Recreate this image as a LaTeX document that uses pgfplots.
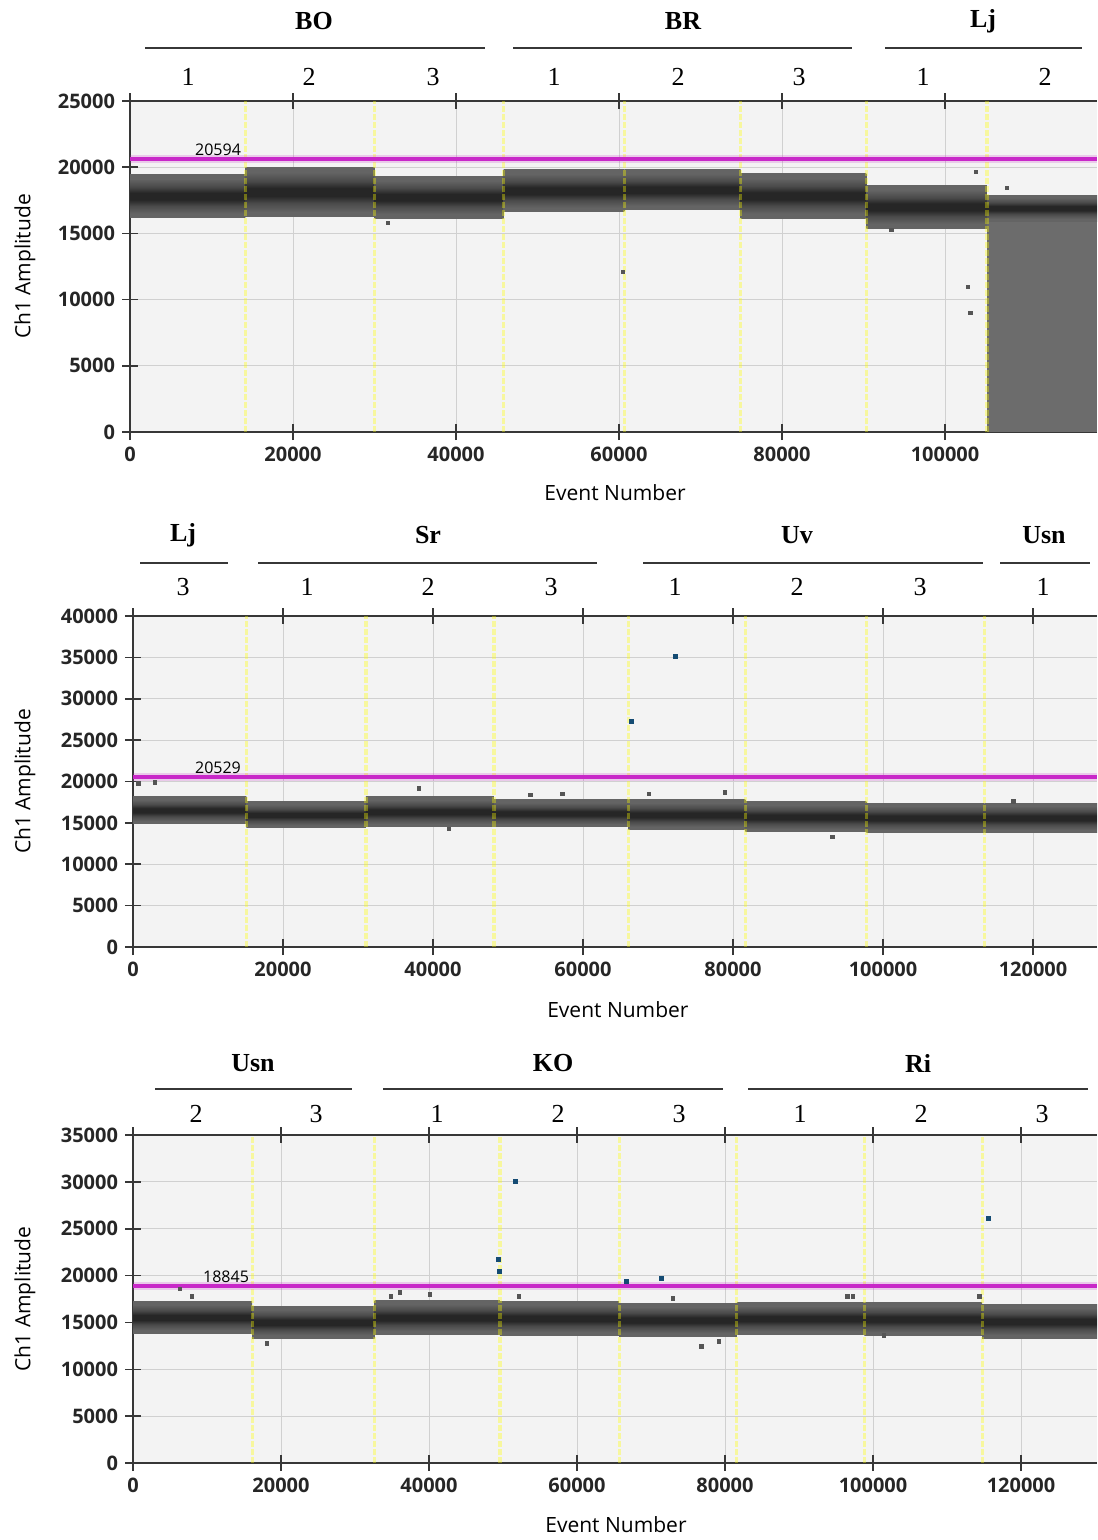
\documentclass[border=0pt]{standalone}
\usepackage{fontspec}
\setsansfont{Open Sans}
\newfontfamily\tnr{Liberation Serif}
\usepackage{pgfplots}
\pgfplotsset{compat=1.18}

\definecolor{bggray}{RGB}{243,243,243}
\definecolor{gridgray}{RGB}{208,208,208}
\definecolor{axgray}{RGB}{55,55,55}
\definecolor{thr}{RGB}{200,40,200}
\definecolor{wellyel}{RGB}{255,255,0}
\definecolor{dotblue}{RGB}{20,75,115}
\definecolor{dotgray}{RGB}{85,85,85}
\definecolor{c1}{RGB}{100,100,100}
\definecolor{c2}{RGB}{74,74,74}
\definecolor{c3}{RGB}{38,38,38}
\definecolor{ljgray}{RGB}{108,108,108}

\pgfdeclareverticalshading{band}{100bp}{color(0bp)=(c1); color(25bp)=(c1); color(30bp)=(c1); color(39bp)=(c2); color(46bp)=(c3); color(54bp)=(c3); color(61bp)=(c2); color(70bp)=(c1); color(75bp)=(c1); color(100bp)=(c1)}

\pgfplotsset{
  ddpcr/.style={
    scale only axis, anchor=south west,
    axis background/.style={fill=bggray},
    axis x line*=box, axis y line*=left,
    x axis line style={-}, y axis line style={-},
    axis line style={axgray, line width=1pt},
    grid=major, major grid style={gridgray, line width=0.5pt},
    tick align=center, major tick length=8pt,
    tick style={axgray, line width=0.8pt},
    xmin=0, ymin=0,
    xtick={0,20000,...,120000},
    scaled ticks=false,
    /pgf/number format/fixed,
    /pgf/number format/precision=0,
    /pgf/number format/1000 sep={},
    /pgf/number format/assume math mode=true,
    tick label style={font=\sffamily\bfseries\fontsize{10}{12}\selectfont, text=black!85},
    xlabel={Event Number}, ylabel={Ch1 Amplitude},
    label style={font=\sffamily\fontsize{10.5}{12}\selectfont},
  },
  band/.style={draw=none, shading=band, forget plot},
  wellsep/.style={wellyel, opacity=0.35, line width=1.6pt, dash pattern=on 3pt off 1pt, forget plot},
  thrline/.style={thr, line width=2pt, forget plot},
  thrhalo/.style={thr, opacity=0.2, line width=4pt, forget plot},
  outl/.style={only marks, mark=square*, mark size=0.9pt, dotgray},
  outb/.style={only marks, mark=square*, mark size=1pt, dotblue},
}
% one well: x0, x1, low edge, high edge
\newcommand{\well}[4]{\addplot[band] coordinates {(#1,#3) (#2,#3) (#2,#4) (#1,#4)} -- cycle;}
\newcommand{\sep}[2]{\addplot[wellsep] coordinates {(#1,0) (#1,#2)};}
\newcommand{\grp}[3]{\node[font=\tnr\bfseries\fontsize{13}{15}\selectfont] at (#1pt,#2pt) {#3};}
\newcommand{\num}[3]{\node[font=\tnr\fontsize{13}{15}\selectfont] at (#1pt,#2pt) {#3};}

\begin{document}
\begin{tikzpicture}
\useasboundingbox (0pt,0pt) rectangle (548.5pt,-770pt);

% ---------- panel 1 ----------
\begin{axis}[ddpcr, at={(65pt,-216pt)}, width=483.5pt, height=165.5pt,
  xmax=118650, ymax=25000, ytick={0,5000,...,25000},
  xlabel style={at={(axis description cs:0.5016,-0.184)}, anchor=center},
  ylabel style={at={(axis description cs:-0.1086,0.5)}, anchor=center}]
\addplot[fill=ljgray, draw=none, forget plot] coordinates {(105150,0) (118650,0) (118650,16300) (105150,16300)} -- cycle;
\well{0}{14170}{16170}{19440}
\well{14170}{30030}{16240}{20000}
\well{30030}{45830}{16160}{19300}
\well{45830}{60670}{16620}{19800}
\well{60670}{74920}{16770}{19800}
\well{74920}{90350}{16160}{19500}
\well{90350}{105150}{15400}{18600}
\well{105150}{118650}{15900}{17900}
\sep{14170}{25000}\sep{30030}{25000}\sep{45830}{25000}\sep{60670}{25000}
\sep{74920}{25000}\sep{90350}{25000}\sep{105150}{25000}
\addplot[thrhalo] coordinates {(0,20594) (118650,20594)};
\addplot[thrline] coordinates {(0,20594) (118650,20594)};
\addplot[outl] coordinates {(60490,12080) (31650,15790) (103800,19640) (102800,10950) (103100,8990) (107600,18430) (93400,15260)};
\node[font=\sffamily\fontsize{8}{9}\selectfont] at (axis cs:10800,21300) {20594};
\end{axis}

% ---------- panel 2 ----------
\begin{axis}[ddpcr, at={(66.5pt,-473.5pt)}, width=482pt, height=165.5pt,
  xmax=128530, ymax=40000, ytick={0,5000,...,40000},
  xlabel style={at={(axis description cs:0.503,-0.19)}, anchor=center},
  ylabel style={at={(axis description cs:-0.112,0.5)}, anchor=center}]
\well{0}{15100}{14870}{18140}
\well{15100}{31060}{14390}{17530}
\well{31060}{48130}{14510}{18140}
\well{48130}{66040}{14510}{17770}
\well{66040}{81660}{14150}{17770}
\well{81660}{97780}{13900}{17530}
\well{97780}{113550}{13780}{17400}
\well{113550}{128530}{13780}{17400}
\sep{15100}{40000}\sep{31060}{40000}\sep{48130}{40000}\sep{66040}{40000}
\sep{81660}{40000}\sep{97780}{40000}\sep{113550}{40000}
\addplot[thrhalo] coordinates {(0,20529) (128530,20529)};
\addplot[thrline] coordinates {(0,20529) (128530,20529)};
\addplot[outl] coordinates {(700,19800) (2900,19900) (38100,19200) (42100,14260) (52950,18360) (57230,18520) (68800,18520) (78900,18700) (117400,17600) (93250,13300)};
\addplot[outb] coordinates {(72340,35100) (66400,27300)};
\node[font=\sffamily\fontsize{8}{9}\selectfont] at (axis cs:11330,21700) {20529};
\end{axis}

% ---------- panel 3 ----------
\begin{axis}[ddpcr, at={(66.5pt,-731.5pt)}, width=482pt, height=164pt,
  xmax=130270, ymax=35000, ytick={0,5000,...,35000},
  xlabel style={at={(axis description cs:0.501,-0.189)}, anchor=center},
  ylabel style={at={(axis description cs:-0.112,0.5)}, anchor=center}]
\well{0}{16100}{13830}{17230}
\well{16100}{32660}{13300}{16700}
\well{32660}{49590}{13700}{17300}
\well{49590}{65700}{13600}{17250}
\well{65700}{81600}{13500}{17000}
\well{81600}{98830}{13700}{17100}
\well{98830}{114750}{13600}{17100}
\well{114750}{130270}{13300}{16900}
\sep{16100}{35000}\sep{32660}{35000}\sep{49590}{35000}\sep{65700}{35000}
\sep{81600}{35000}\sep{98830}{35000}\sep{114750}{35000}
\addplot[thrhalo] coordinates {(0,18845) (130270,18845)};
\addplot[thrline] coordinates {(0,18845) (130270,18845)};
\addplot[outl] coordinates {(6350,18600) (7970,17770) (18100,12770) (34860,17770) (36080,18190) (40140,17980) (52160,17770) (72950,17550) (76840,12450) (79170,12980) (96500,17770) (97300,17770) (101450,13620) (114400,17770)};
\addplot[outb] coordinates {(49320,21700) (49460,20430) (51620,30050) (66740,19360) (71400,19680) (115540,26060)};
\node[font=\sffamily\fontsize{8}{9}\selectfont] at (axis cs:12570,19900) {18845};
\end{axis}

% ---------- sample / well labels ----------
% panel 1
\grp{157}{-10.5}{BO}\grp{341.5}{-10.5}{BR}\grp{491.5}{-10.5}{Lj}
\draw[axgray, line width=1pt] (72.5pt,-24pt) -- (242.5pt,-24pt) (256.5pt,-24pt) -- (426pt,-24pt) (442.5pt,-24pt) -- (541pt,-24pt);
\num{94}{-38.5}{1}\num{154.5}{-38.5}{2}\num{216.5}{-38.5}{3}\num{277}{-38.5}{1}
\num{339}{-38.5}{2}\num{399.5}{-38.5}{3}\num{461.5}{-38.5}{1}\num{522.5}{-38.5}{2}
% panel 2
\grp{91.5}{-267.5}{Lj}\grp{214}{-267.5}{Sr}\grp{398.5}{-267.5}{Uv}\grp{522}{-267.5}{Usn}
\draw[axgray, line width=1pt] (70pt,-281.5pt) -- (114pt,-281.5pt) (129pt,-281.5pt) -- (298.5pt,-281.5pt) (321.5pt,-281.5pt) -- (491.5pt,-281.5pt) (500pt,-281.5pt) -- (545pt,-281.5pt);
\num{91.5}{-293.5}{3}\num{153.5}{-293.5}{1}\num{214}{-293.5}{2}\num{275.5}{-293.5}{3}
\num{337.5}{-293.5}{1}\num{398.5}{-293.5}{2}\num{460}{-293.5}{3}\num{521.5}{-293.5}{1}
% panel 3
\grp{126.5}{-531.5}{Usn}\grp{276.5}{-531.5}{KO}\grp{459}{-531.5}{Ri}
\draw[axgray, line width=1pt] (77.5pt,-544.5pt) -- (176pt,-544.5pt) (191.5pt,-544.5pt) -- (361.5pt,-544.5pt) (374pt,-544.5pt) -- (544pt,-544.5pt);
\num{98}{-557}{2}\num{158}{-557}{3}\num{218.5}{-557}{1}\num{279}{-557}{2}
\num{339.5}{-557}{3}\num{400}{-557}{1}\num{460.5}{-557}{2}\num{521}{-557}{3}
\end{tikzpicture}
\end{document}
